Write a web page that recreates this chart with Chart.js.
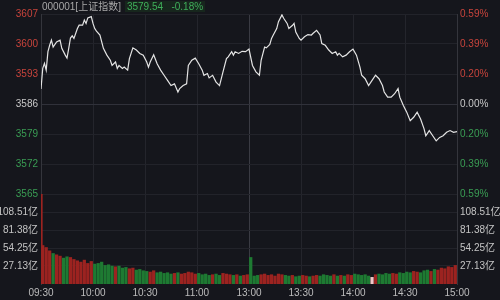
<!DOCTYPE html>
<html>
<head>
<meta charset="utf-8">
<script src="https://cdn.jsdelivr.net/npm/chart.js@4.4.1/dist/chart.umd.min.js"></script>
<style>
  html, body { margin: 0; padding: 0; background: #15161c; }
  #wrap { position: relative; width: 500px; height: 300px; }
  #header { position: absolute; left: 42px; top: 0; font: 10px "Liberation Sans", "Noto Sans CJK SC", sans-serif; line-height: 13px; color: #a8a8a8; white-space: nowrap; }
  #header .q { color: #3fae5a; background: #17261d; padding: 0 2px; margin-left: 4px; }
</style>
</head>
<body>
<div id="wrap">
  <canvas id="chart" width="500" height="300"></canvas>
  <div id="header">000001[上证指数]<span class="q">3579.54&nbsp;&nbsp;&nbsp;-0.18%</span></div>
</div>
<script>
// minutes since 09:30 (lunch break removed), 240 = 15:00
const priceMinutes = [0,1,2,3,4,5,6,7,9,11,12,14,15,16,17,18,19,21,22,24,25,26,27,29,30,31,32,34,36,38,40,41,43,44,45,47,48,50,51,53,55,57,59,61,62,63,65,67,69,71,73,75,77,79,80,82,84,85,87,89,91,93,94,96,97,99,101,103,105,107,108,110,111,112,114,116,118,120,122,124,126,127,129,130,132,133,134,136,137,139,140,142,143,145,146,147,149,150,152,154,156,157,159,161,162,164,166,168,170,171,172,174,176,178,180,182,184,185,187,189,191,193,195,197,198,200,202,204,206,207,209,211,213,215,217,219,221,222,224,226,228,230,232,234,236,238,240];
const prices = [3589.5,3594.3,3595.5,3593.9,3598.2,3599.7,3600.9,3599.3,3600.5,3600.9,3599.0,3597.4,3596.7,3599.0,3601.4,3601.9,3601.3,3603.6,3604.4,3604.4,3605.6,3604.8,3606.1,3606.4,3604.8,3603.6,3603.0,3602.1,3599.0,3597.4,3596.2,3595.0,3595.8,3594.3,3595.0,3594.3,3594.6,3593.9,3596.6,3599.1,3598.6,3597.8,3597.4,3595.8,3594.6,3595.8,3597.5,3595.4,3593.9,3592.7,3591.5,3590.3,3590.7,3588.8,3589.6,3590.3,3590.7,3595.0,3596.2,3596.7,3595.4,3593.9,3592.7,3593.1,3592.1,3592.7,3591.1,3590.3,3593.5,3596.6,3597.0,3598.2,3597.4,3598.2,3597.8,3598.3,3598.2,3598.8,3595.0,3593.5,3592.7,3596.2,3599.3,3599.1,3599.9,3601.3,3602.1,3603.6,3605.2,3606.8,3606.0,3604.8,3603.6,3604.3,3604.8,3602.8,3601.3,3600.9,3601.7,3602.2,3602.1,3602.5,3603.2,3602.1,3600.1,3599.7,3598.6,3597.8,3598.2,3597.4,3597.8,3597.0,3597.4,3598.2,3598.8,3597.4,3594.6,3592.7,3591.9,3590.3,3591.5,3592.7,3591.9,3590.3,3588.8,3587.6,3587.6,3588.4,3589.6,3587.6,3585.7,3584.1,3582.1,3582.9,3584.1,3582.5,3580.2,3578.6,3579.8,3578.6,3577.4,3578.2,3578.6,3579.4,3579.8,3579.4,3579.54];

// volume (亿), opening auction bar then one bar per two minutes
const volMinutes = [0, ...Array.from({ length: 120 }, (_, i) => 2 * i + 1)];
const volumes = [135,
  58,55,50,46,44,42,39,41,40,37, 35,33,36,31,34,30,31,33,28,29,
  27,26,27,24,25,23,24,21,22,20, 19,18,20,17,18,16,17,15,16,17,
  15,16,18,17,15,16,14,15,13,14, 15,13,16,15,14,13,14,12,13,14,
  40,12,13,14,15,13,14,12,15,14, 13,12,13,11,12,13,12,11,12,13,
  12,14,13,12,14,12,13,12,14,13, 15,14,13,14,12,10,14,15,14,16,
  15,16,15,17,16,18,17,19,18,17, 20,21,19,22,21,24,23,26,25,28];
const volDirs = 'R' +
  'RRRGRRGGRR' + 'RRRRRGGGGG' + 'GRGGGRRGGG' + 'GRRGGGGGRG' + 'RRRRRGGGGR' + 'GGRRRGRGRR' +
  'GGGRRRRRRR' + 'GGRGGRRGRR' + 'GGGGRGRGRR' + 'GGGGGWRGGG' + 'GRRGGGGRRG' + 'GGRGRRRRRR';

const preClose = 3586;
const priceTicks = [3565, 3572, 3579, 3586, 3593, 3600, 3607];
const pctLabels = ['0.59%', '0.39%', '0.20%', '0.00%', '0.20%', '0.39%', '0.59%'];
const volTicks = [27.13, 54.25, 81.38, 108.51];
const volLabels = ['27.13亿', '54.25亿', '81.38亿', '108.51亿'];
const volMax = 135.64;
const timeTicks = [0, 30, 60, 90, 120, 150, 180, 210, 240];
const timeLabels = ['09:30', '10:00', '10:30', '11:00', '13:00', '13:30', '14:00', '14:30', '15:00'];

const RED = '#c8443c';
const GREEN = '#3a9d54';
const GREY = '#c8c8c8';
const barColors = { R: '#9c2320', G: '#1e7a32', W: '#f0c8c8' };
const font = { family: '"Liberation Sans", "Noto Sans CJK SC", sans-serif', size: 10 };

function priceColor(v) {
  if (v > preClose) return RED;
  if (v < preClose) return GREEN;
  return GREY;
}

function setTicks(list) {
  return scale => { scale.ticks = list.map(v => ({ value: v })); };
}

const hGrid = ctx => (ctx.tick && ctx.tick.value === preClose) ? '#30313a' : '#22232a';

new Chart(document.getElementById('chart'), {
  data: {
    datasets: [
      {
        type: 'line',
        data: priceMinutes.map((m, i) => ({ x: m, y: prices[i] })),
        xAxisID: 'x',
        yAxisID: 'y',
        borderColor: '#e4e4e4',
        borderWidth: 1.2,
        pointRadius: 0,
        tension: 0
      },
      {
        type: 'bar',
        data: volMinutes.map((m, i) => ({ x: m, y: volumes[i] })),
        xAxisID: 'x',
        yAxisID: 'vol',
        backgroundColor: volMinutes.map((m, i) => barColors[volDirs[i]]),
        barThickness: 2.6
      }
    ]
  },
  options: {
    responsive: false,
    animation: false,
    layout: { padding: { top: 14 } },
    plugins: { legend: { display: false }, tooltip: { enabled: false } },
    scales: {
      x: {
        type: 'linear', min: 0, max: 240, offset: false,
        afterBuildTicks: setTicks(timeTicks),
        afterFit: s => { s.height = 16; },
        ticks: { autoSkip: false, maxRotation: 0, color: '#bcbcbc', font, padding: 3,
                 callback: (v, i) => timeLabels[i] },
        grid: { offset: false, drawTicks: false, color: ctx => (ctx.tick && ctx.tick.value === 120) ? '#3a3b43' : '#24252c' },
        border: { display: false }
      },
      // left stack: listed bottom first
      vol: {
        type: 'linear', position: 'left', stack: 'left', stackWeight: 1,
        min: 0, max: volMax,
        afterBuildTicks: setTicks(volTicks),
        afterFit: s => { s.width = 41; },
        ticks: { color: '#c4c4c4', font, padding: 3, callback: (v, i) => volLabels[i] },
        grid: { drawTicks: false, color: '#22232a' },
        border: { color: '#34353c' }
      },
      y: {
        type: 'linear', position: 'left', stack: 'left', stackWeight: 2,
        min: 3565, max: 3607,
        afterBuildTicks: setTicks(priceTicks),
        afterFit: s => { s.width = 41; },
        ticks: { color: ctx => priceColor(ctx.tick.value), font, padding: 3, callback: v => String(v) },
        grid: { drawTicks: false, color: hGrid },
        border: { color: '#34353c' }
      },
      // right stack: listed top first
      y2: {
        type: 'linear', position: 'right', stack: 'right', stackWeight: 2,
        min: 3565, max: 3607,
        afterBuildTicks: setTicks(priceTicks),
        afterFit: s => { s.width = 43; },
        ticks: { color: ctx => priceColor(ctx.tick.value), font, padding: 3,
                 callback: (v, i) => pctLabels[priceTicks.length - 1 - i] },
        grid: { display: false, drawTicks: false },
        border: { color: '#34353c' }
      },
      vol2: {
        type: 'linear', position: 'right', stack: 'right', stackWeight: 1,
        min: 0, max: volMax,
        afterBuildTicks: setTicks(volTicks),
        afterFit: s => { s.width = 43; },
        ticks: { color: '#c4c4c4', font, padding: 3, callback: (v, i) => volLabels[i] },
        grid: { display: false, drawTicks: false },
        border: { color: '#34353c' }
      }
    }
  }
});
</script>
</body>
</html>
